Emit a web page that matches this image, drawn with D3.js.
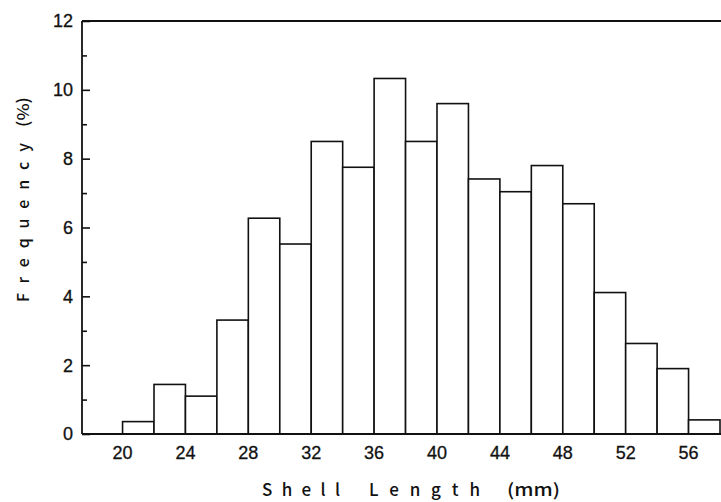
<!DOCTYPE html>
<html>
<head>
<meta charset="utf-8">
<script src="https://cdn.jsdelivr.net/npm/d3@7"></script>
<style>
  html, body { margin: 0; padding: 0; background: #fff; }
  svg { display: block; }
</style>
</head>
<body>
<svg id="chart" width="721" height="502"></svg>
<script>
// Data: shell length bins (mm, lower edge; width 2 mm) and frequency (%)
const binStarts = [20, 22, 24, 26, 28, 30, 32, 34, 36, 38, 40, 42, 44, 46, 48, 50, 52, 54, 56];
const frequency = [0.36, 1.44, 1.1, 3.31, 6.27, 5.52, 8.5, 7.75, 10.33, 8.5, 9.6, 7.41, 7.04, 7.8, 6.69, 4.11, 2.63, 1.9, 0.41];
const binWidth = 2;
const xTickValues = [20, 24, 28, 32, 36, 40, 44, 48, 52, 56];
const yTickValues = [0, 2, 4, 6, 8, 10, 12];
const yMinorTickValues = [1, 3, 5, 7, 9, 11];
const xTitleParts = ["Shell", "Length", "(mm)"];
const yTitleParts = ["Frequency", "(%)"];

const svg = d3.select("#chart");
const mLeft = 82, mRight = 720, mTop = 21, mBottom = 434;

const x = d3.scaleLinear().domain([17.42, 58]).range([mLeft, mRight]);
const y = d3.scaleLinear().domain([0, 12]).range([mBottom, mTop]);

// bars
svg.append("g")
  .selectAll("rect")
  .data(binStarts)
  .join("rect")
  .attr("x", (d) => x(d))
  .attr("y", (d, i) => y(frequency[i]))
  .attr("width", (d) => x(d + binWidth) - x(d))
  .attr("height", (d, i) => y(0) - y(frequency[i]))
  .attr("fill", "#fff")
  .attr("stroke", "#111")
  .attr("stroke-width", 1.6);

// frame: left, top, bottom
const frame = svg.append("g").attr("stroke", "#111").attr("stroke-width", 1.8).attr("fill", "none");
frame.append("line").attr("x1", mLeft).attr("x2", mLeft).attr("y1", mTop).attr("y2", mBottom);
frame.append("line").attr("x1", mLeft).attr("x2", 721).attr("y1", mTop).attr("y2", mTop);
frame.append("line").attr("x1", mLeft).attr("x2", 721).attr("y1", mBottom).attr("y2", mBottom);

// y axis (inward ticks)
const yAxis = d3.axisRight(y).tickValues(yTickValues).tickSize(8).tickFormat("");
const gy = svg.append("g").attr("transform", `translate(${mLeft},0)`).call(yAxis);
gy.select(".domain").remove();
gy.selectAll("line").attr("stroke", "#111").attr("stroke-width", 1.6);

const yMinor = d3.axisRight(y).tickValues(yMinorTickValues).tickSize(5).tickFormat("");
const gym = svg.append("g").attr("transform", `translate(${mLeft},0)`).call(yMinor);
gym.select(".domain").remove();
gym.selectAll("line").attr("stroke", "#111").attr("stroke-width", 1.6);

// y tick labels
svg.append("g")
  .selectAll("text")
  .data(yTickValues)
  .join("text")
  .attr("x", 73)
  .attr("y", (d) => y(d))
  .attr("dy", "0.36em")
  .attr("text-anchor", "end")
  .attr("font-family", "Liberation Sans, Arial, sans-serif")
  .attr("font-size", 18)
  .attr("fill", "#111")
  .attr("stroke", "#111")
  .attr("stroke-width", 0.3)
  .text((d) => d);

// x tick labels
svg.append("g")
  .selectAll("text")
  .data(xTickValues)
  .join("text")
  .attr("x", (d) => x(d))
  .attr("y", 459)
  .attr("text-anchor", "middle")
  .attr("font-family", "Liberation Sans, Arial, sans-serif")
  .attr("font-size", 18)
  .attr("fill", "#111")
  .attr("stroke", "#111")
  .attr("stroke-width", 0.3)
  .text((d) => d);

// axis titles (spaced words, tight parenthesised units)
const titleFont = "Noto Sans CJK JP, DejaVu Sans, sans-serif";
const xParts = [
  { t: xTitleParts[0], x0: 262, len: 78, adj: "spacing" },
  { t: xTitleParts[1], x0: 369, len: 111, adj: "spacing" },
  { t: xTitleParts[2], x0: 507, len: 53, adj: "spacingAndGlyphs" }
];
svg.append("g")
  .selectAll("text")
  .data(xParts)
  .join("text")
  .attr("x", (d) => d.x0)
  .attr("y", 496)
  .attr("textLength", (d) => d.len)
  .attr("lengthAdjust", (d) => d.adj)
  .attr("font-family", titleFont)
  .attr("font-weight", 500)
  .attr("font-size", 17)
  .attr("fill", "#111")
  .text((d) => d.t);

const yParts = [
  { t: yTitleParts[0], y0: 302, len: 159, adj: "spacing" },
  { t: yTitleParts[1], y0: 127, len: 30, adj: "spacingAndGlyphs" }
];
svg.append("g")
  .selectAll("text")
  .data(yParts)
  .join("text")
  .attr("transform", (d) => `translate(29,${d.y0}) rotate(-90)`)
  .attr("textLength", (d) => d.len)
  .attr("lengthAdjust", (d) => d.adj)
  .attr("font-family", titleFont)
  .attr("font-weight", 500)
  .attr("font-size", 16)
  .attr("fill", "#111")
  .text((d) => d.t);
</script>
</body>
</html>
